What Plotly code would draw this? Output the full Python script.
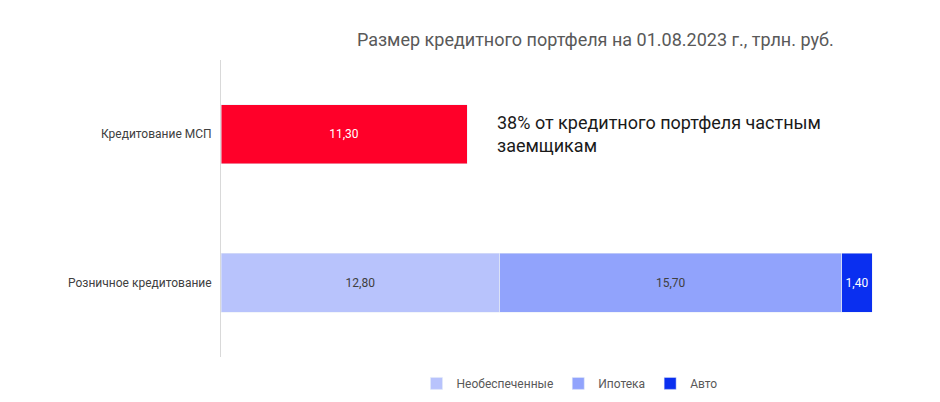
import plotly.graph_objects as go

categories = ['Розничное кредитование', 'Кредитование МСП']
series_names = ['Необеспеченные', 'Ипотека', 'Авто']
retail_values = [12.80, 15.70, 1.40]
msp_value = 11.30
colors = ['#b8c3fc', '#91a3fc', '#0a2ff0']

fig = go.Figure()

fig.add_trace(go.Bar(
    y=[categories[1]], x=[msp_value], orientation='h', width=0.4,
    marker_color='#ff0029', text=['11,30'], textposition='inside',
    insidetextanchor='middle', textfont=dict(color='white', size=12),
    showlegend=False, hoverinfo='skip'
))

for name, val, col in zip(series_names, retail_values, colors):
    fig.add_trace(go.Bar(
        y=[categories[0]], x=[val], orientation='h', width=0.4, name=name,
        marker_color=col, text=[f'{val:.2f}'.replace('.', ',')],
        textposition='inside', insidetextanchor='middle',
        textfont=dict(color='#404040' if col != '#0a2ff0' else 'white', size=12),
        constraintext='none'
    ))

fig.add_annotation(
    x=12.6, y=categories[1], xref='x', yref='y', xanchor='left', yanchor='middle',
    text='38% от кредитного портфеля частным<br>заемщикам', align='left',
    showarrow=False, font=dict(size=18, color='#1a1a1a')
)

fig.update_layout(
    barmode='stack',
    width=940, height=402,
    plot_bgcolor='white', paper_bgcolor='white',
    font=dict(family='Roboto', color='#404040', size=12),
    title=dict(text='Размер кредитного портфеля на 01.08.2023 г., трлн. руб.',
               xref='paper', x=0.537, xanchor='center', y=0.92, yanchor='middle',
               font=dict(size=18, color='#595959')),
    xaxis=dict(range=[0, 32], visible=False),
    yaxis=dict(categoryorder='array', categoryarray=categories, automargin=False,
               showline=True, linecolor='#d9d9d9', linewidth=1,
               ticks='', ticksuffix='  ', tickfont=dict(size=12, color='#404040'),
               domain=[0, 1]),
    legend=dict(orientation='h', x=0.5, xanchor='center', y=-0.04, yanchor='top',
                traceorder='normal', font=dict(size=12, color='#595959'), itemwidth=30),
    margin=dict(l=213, r=30, t=52, b=37),
    uniformtext=dict(mode=False)
)

fig.write_html("out.html")
